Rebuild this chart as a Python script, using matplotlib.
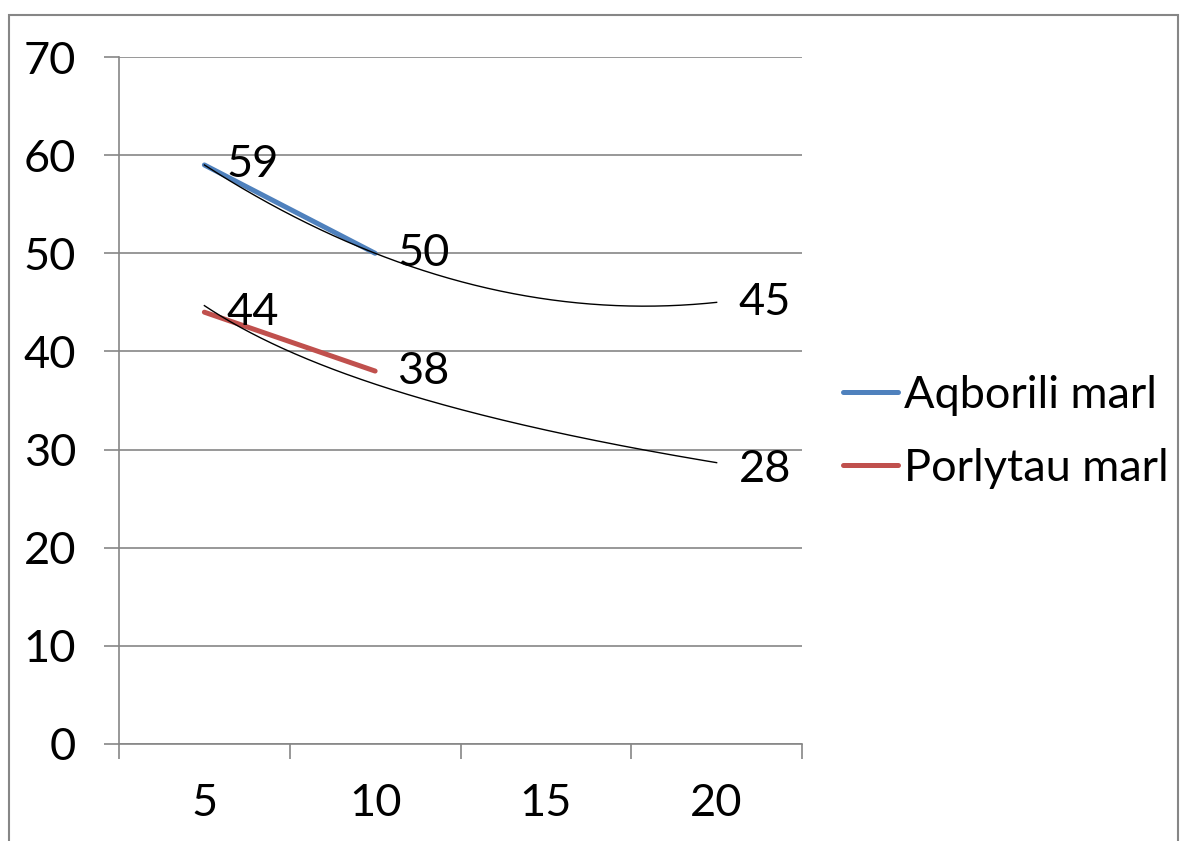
import numpy as np
import matplotlib
matplotlib.use("Agg")
import matplotlib.pyplot as plt
from matplotlib.patches import Rectangle

plt.rcParams['font.family'] = ['Lato', 'DejaVu Sans']

# data (15 has no value, so the line breaks there)
categories = ['5', '10', '15', '20']
aqborili = [59, 50, np.nan, 45]
porlytau = [44, 38, np.nan, 28]
series_names = ['Aqborili marl', 'Porlytau marl']
y_ticks = [0, 10, 20, 30, 40, 50, 60, 70]

W, H = 1182, 841
fig = plt.figure(figsize=(W / 100, H / 100), dpi=100)
ax = fig.add_axes([119 / W, 1 - 744 / H, (802 - 119) / W, (744 - 57) / H])

xi = np.arange(1, len(categories) + 1)
grey = '#868686'
fs = 32.5

ax.plot(xi, aqborili, color='#4F81BD', lw=3.6, solid_capstyle='round', label=series_names[0], zorder=3)
ax.plot(xi, porlytau, color='#C0504D', lw=3.6, solid_capstyle='round', label=series_names[1], zorder=3)

# trendlines: polynomial (order 2) for Aqborili, logarithmic for Porlytau
xs = np.linspace(1, 4, 200)
ya = np.array(aqborili)
ok = ~np.isnan(ya)
pa = np.polyfit(xi[ok], ya[ok], 2)
ax.plot(xs, np.polyval(pa, xs), color='black', lw=1.0, zorder=4)

yp = np.array(porlytau)
ok = ~np.isnan(yp)
pl = np.polyfit(np.log(xi[ok]), yp[ok], 1)
ax.plot(xs, pl[0] * np.log(xs) + pl[1], color='black', lw=1.0, zorder=4)

# data labels
for vals in (aqborili, porlytau):
    for x, v in zip(xi, vals):
        if np.isnan(v):
            continue
        ax.annotate(f'{v:g}', (x, v), xytext=(16, 0), textcoords='offset points',
                    ha='left', va='center', fontsize=fs, zorder=5)

ax.set_xlim(0.5, 4.5)
ax.set_ylim(0, 70)
ax.set_yticks(y_ticks)
ax.set_xticks(np.arange(0.5, 4.6, 1))
ax.set_xticklabels([])
ax.set_xticks(xi, minor=True)
ax.set_xticklabels(categories, minor=True)
ax.tick_params(axis='x', which='minor', length=0, pad=28, labelsize=fs)
ax.tick_params(axis='x', which='major', length=11, width=1.2, color=grey, direction='out')
ax.tick_params(axis='y', length=11, width=1.2, color=grey, pad=20, labelsize=fs)

ax.yaxis.grid(True, color=grey, lw=1.2)
ax.set_axisbelow(True)
for s in ['top', 'right']:
    ax.spines[s].set_visible(False)
for s in ['left', 'bottom']:
    ax.spines[s].set_color(grey)
    ax.spines[s].set_linewidth(1.2)

fig.legend(loc='center left', bbox_to_anchor=(843 / W, 1 - 432 / H), frameon=False,
           borderpad=0, borderaxespad=0,
           fontsize=fs, handlelength=1.22, handletextpad=0.13, labelspacing=0.7)

fig.patches.append(Rectangle((9 / W, -0.1), (1178 - 9) / W, 1.1 - 15 / H, transform=fig.transFigure,
                             fill=False, edgecolor=grey, lw=1.5))

fig.savefig('out.png', dpi=100)
